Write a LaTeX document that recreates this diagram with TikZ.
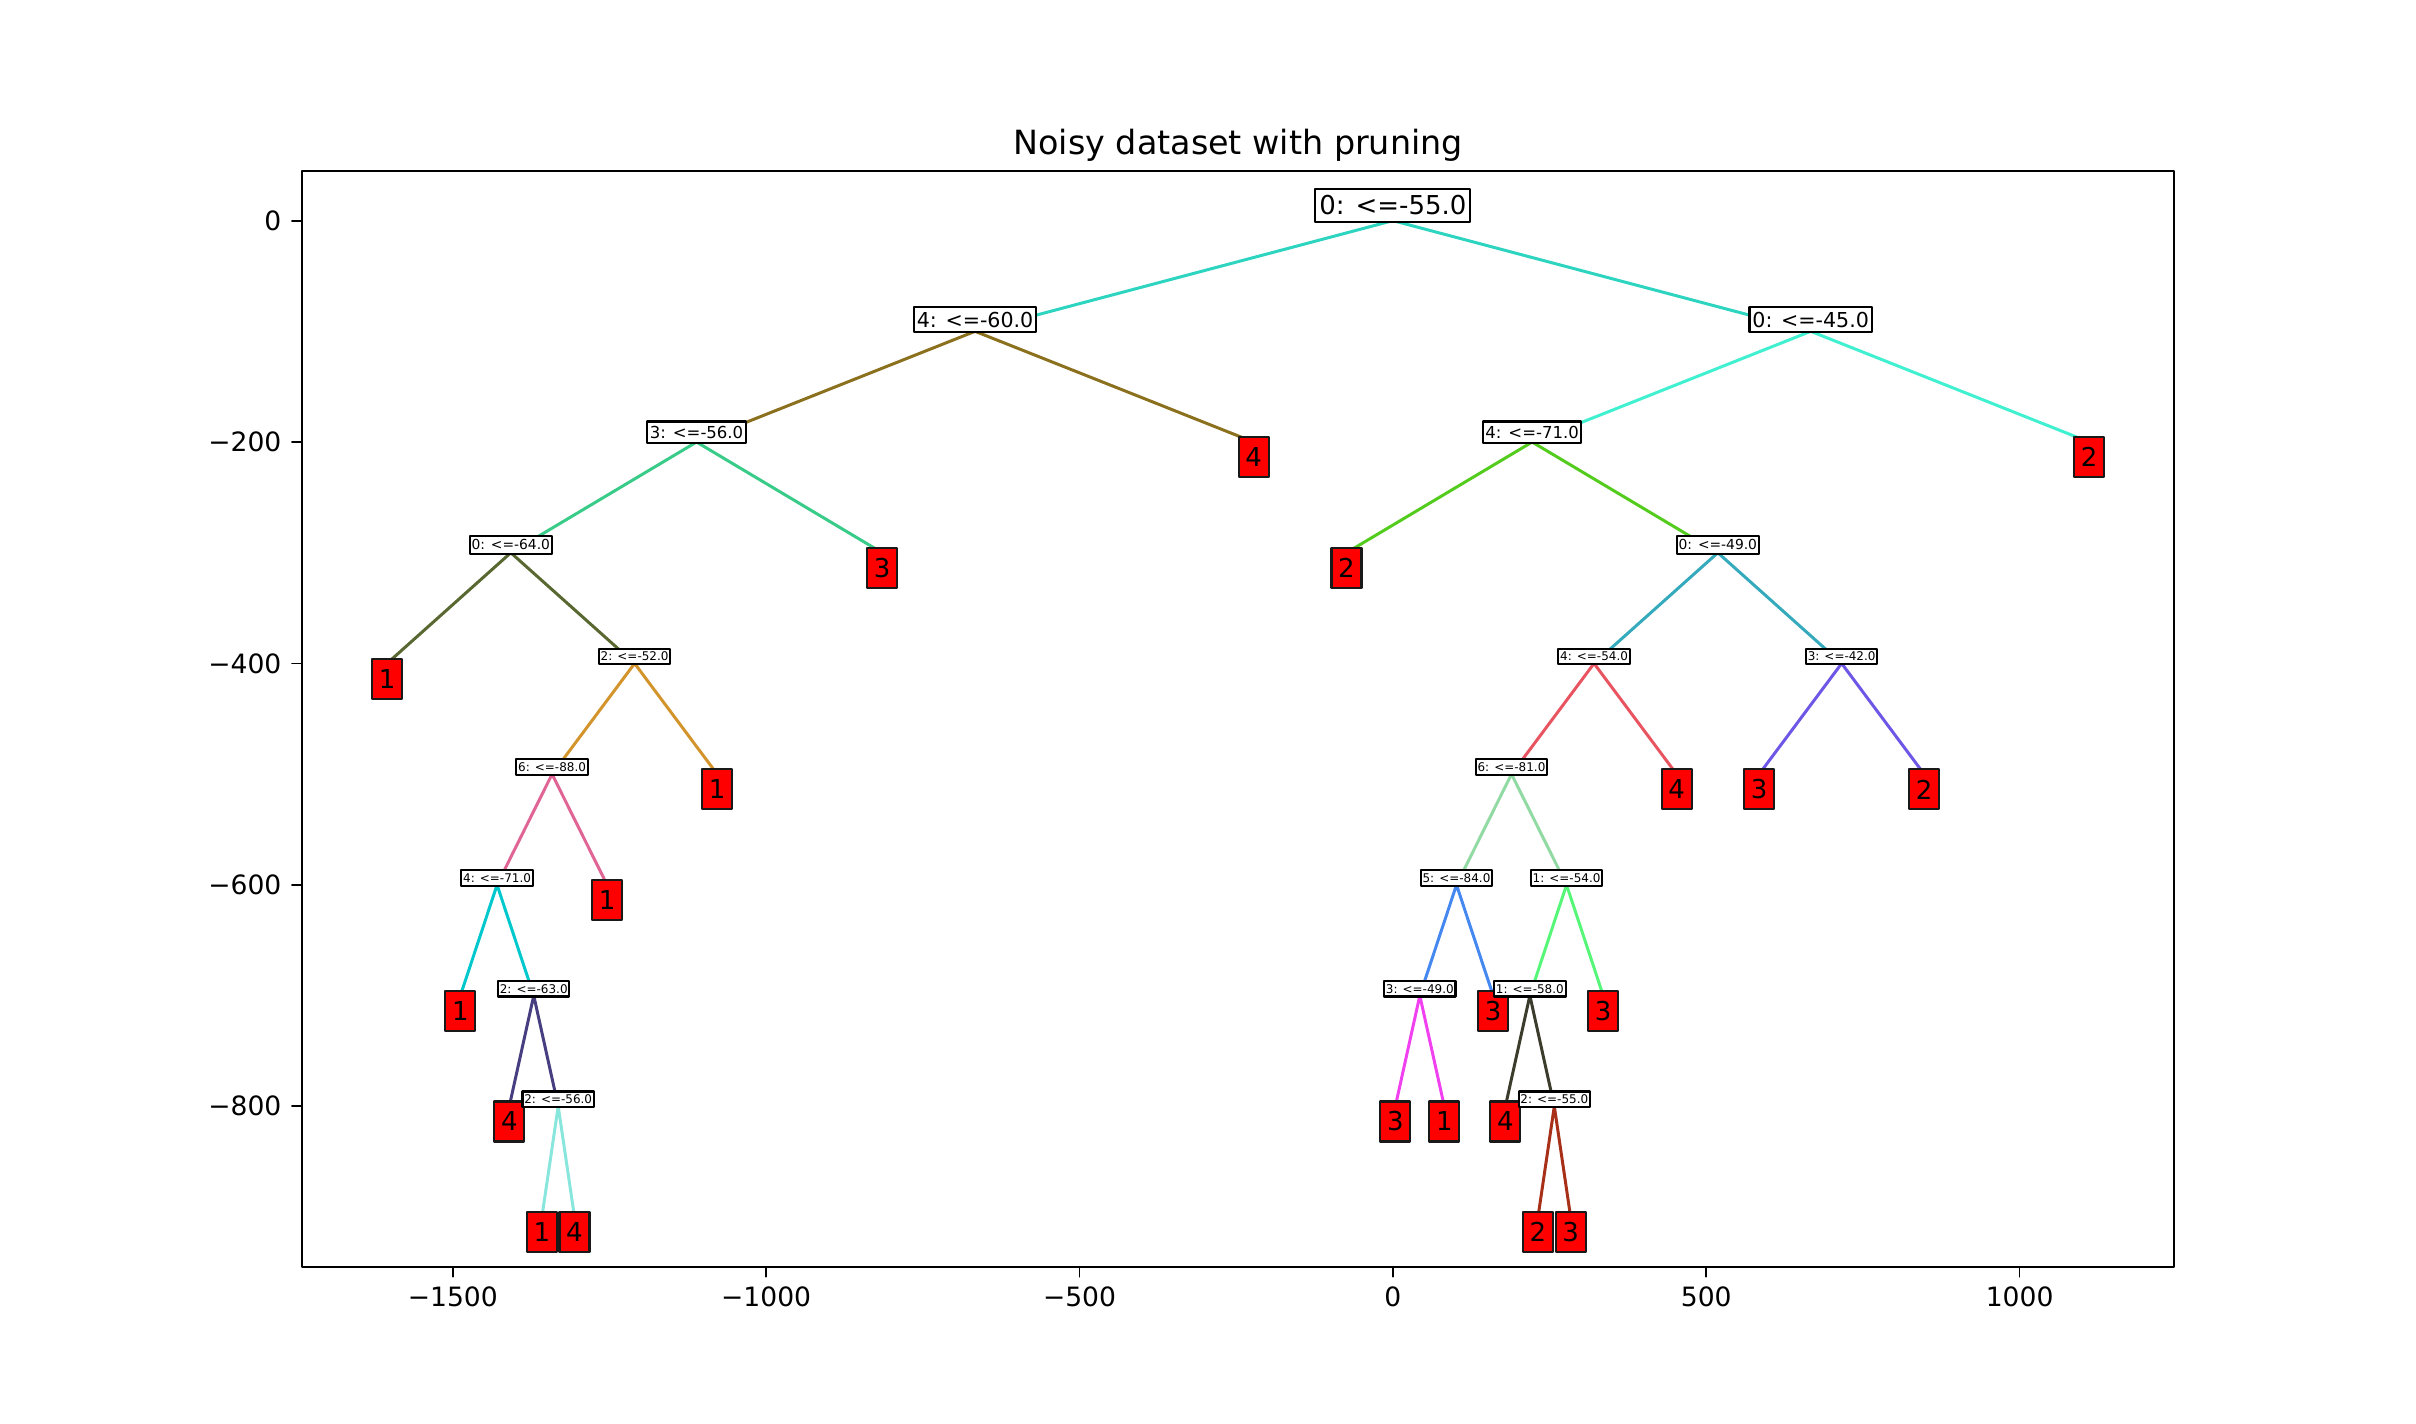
\documentclass[tikz,border=0pt]{standalone}
\usepackage{fontspec}
\setmainfont{DejaVu Sans}
% branch colours, one per split
\definecolor{cR}{HTML}{2DD4C0}
\definecolor{cA}{HTML}{8B701E}
\definecolor{cB}{HTML}{38CC88}
\definecolor{cC}{HTML}{586830}
\definecolor{cD}{HTML}{D4942C}
\definecolor{cE}{HTML}{E06494}
\definecolor{cF}{HTML}{00C8CC}
\definecolor{cG}{HTML}{463E80}
\definecolor{cH}{HTML}{88E6DC}
\definecolor{cP}{HTML}{40F0D0}
\definecolor{cQ}{HTML}{54CC1E}
\definecolor{cS}{HTML}{34AABC}
\definecolor{cT}{HTML}{E85460}
\definecolor{cU}{HTML}{6E56E6}
\definecolor{cV}{HTML}{92DAA4}
\definecolor{cW}{HTML}{4488F0}
\definecolor{cX}{HTML}{56F678}
\definecolor{cY}{HTML}{F040F0}
\definecolor{cZ}{HTML}{3C3C2C}
\definecolor{cK}{HTML}{A83018}
\tikzset{
  edge/.style={line width=0.85pt},
  split/.style={draw,fill=white,line width=0.6pt,inner ysep=0pt,anchor=south,yshift=-0.2mm},
  lv0/.style={font=\fontsize{7.4pt}{8pt}\selectfont,minimum height=3.3mm,inner xsep=0.4mm},
  lv1/.style={font=\fontsize{5.86pt}{6.5pt}\selectfont,minimum height=2.55mm,inner xsep=0.3mm},
  lv2/.style={font=\fontsize{4.7pt}{5.2pt}\selectfont,minimum height=2.15mm,inner xsep=0.25mm},
  lv3/.style={font=\fontsize{3.94pt}{4.4pt}\selectfont,minimum height=1.8mm,inner xsep=0.2mm},
  lv4/.style={font=\fontsize{3.41pt}{3.8pt}\selectfont,minimum height=1.57mm,inner xsep=0.18mm},
  leaf/.style={draw=black!90,fill=red,line width=0.6pt,inner sep=0pt,minimum width=3mm,minimum height=4mm,
    anchor=north,yshift=0.58mm,font=\fontsize{7.4pt}{8pt}\selectfont},
  frame/.style={line width=0.5pt},
  ticklab/.style={inner sep=0pt,font=\fontsize{7.57pt}{8.5pt}\selectfont}
}
\begin{document}
\begin{tikzpicture}[line cap=round,line join=round,x=0.0062672cm,y=0.011076cm]
\fill[white] (-2222.5,199.3) rectangle (1632.5,-1086.4);
% split points
\coordinate (r) at (0,0);
\coordinate (a) at (-666.667,-100);
\coordinate (b) at (-1111.111,-200);
\coordinate (c) at (-1407.407,-300);
\coordinate (d) at (-1209.877,-400);
\coordinate (e) at (-1341.564,-500);
\coordinate (f) at (-1429.355,-600);
\coordinate (g) at (-1370.827,-700);
\coordinate (h) at (-1331.809,-800);
\coordinate (p) at (666.667,-100);
\coordinate (q) at (222.222,-200);
\coordinate (s) at (518.519,-300);
\coordinate (t) at (320.988,-400);
\coordinate (u) at (716.049,-400);
\coordinate (v) at (189.300,-500);
\coordinate (w) at (101.509,-600);
\coordinate (x) at (277.092,-600);
\coordinate (y) at (42.981,-700);
\coordinate (z) at (218.564,-700);
\coordinate (k) at (257.582,-800);
% leaf points
\coordinate (aR) at (-222.222,-200);
\coordinate (bR) at (-814.815,-300);
\coordinate (cL) at (-1604.938,-400);
\coordinate (dR) at (-1078.189,-500);
\coordinate (eR) at (-1253.772,-600);
\coordinate (fL) at (-1487.883,-700);
\coordinate (gL) at (-1409.845,-800);
\coordinate (hL) at (-1357.821,-900);
\coordinate (hR) at (-1305.797,-900);
\coordinate (pR) at (1111.111,-200);
\coordinate (qL) at (-74.074,-300);
\coordinate (uL) at (584.362,-500);
\coordinate (uR) at (847.737,-500);
\coordinate (tR) at (452.675,-500);
\coordinate (wR) at (160.037,-700);
\coordinate (yL) at (3.963,-800);
\coordinate (yR) at (81.999,-800);
\coordinate (xR) at (335.620,-700);
\coordinate (zL) at (179.546,-800);
\coordinate (kL) at (231.570,-900);
\coordinate (kR) at (283.594,-900);
% branches
\draw[edge,cR] (a) -- (r) -- (p);
\draw[edge,cA] (b) -- (a) -- (aR);
\draw[edge,cB] (c) -- (b) -- (bR);
\draw[edge,cC] (cL) -- (c) -- (d);
\draw[edge,cD] (e) -- (d) -- (dR);
\draw[edge,cE] (f) -- (e) -- (eR);
\draw[edge,cF] (fL) -- (f) -- (g);
\draw[edge,cG] (gL) -- (g) -- (h);
\draw[edge,cH] (hL) -- (h) -- (hR);
\draw[edge,cP] (q) -- (p) -- (pR);
\draw[edge,cQ] (qL) -- (q) -- (s);
\draw[edge,cS] (t) -- (s) -- (u);
\draw[edge,cT] (v) -- (t) -- (tR);
\draw[edge,cU] (uL) -- (u) -- (uR);
\draw[edge,cV] (w) -- (v) -- (x);
\draw[edge,cW] (y) -- (w) -- (wR);
\draw[edge,cX] (z) -- (x) -- (xR);
\draw[edge,cY] (yL) -- (y) -- (yR);
\draw[edge,cZ] (zL) -- (z) -- (k);
\draw[edge,cK] (kL) -- (k) -- (kR);
% boxes, left subtree first
\node[split,lv0] (lab-r) at (r) {0: <=-55.0};
\node[split,lv1] (lab-a) at (a) {4: <=-60.0};
\node[split,lv2] (lab-b) at (b) {3: <=-56.0};
\node[split,lv3] (lab-c) at (c) {0: <=-64.0};
\node[leaf] (lab-cL) at (cL) {1};
\node[split,lv4] (lab-d) at (d) {2: <=-52.0};
\node[split,lv4] (lab-e) at (e) {6: <=-88.0};
\node[split,lv4] (lab-f) at (f) {4: <=-71.0};
\node[leaf] (lab-fL) at (fL) {1};
\node[split,lv4] (lab-g) at (g) {2: <=-63.0};
\node[leaf] (lab-gL) at (gL) {4};
\node[split,lv4] (lab-h) at (h) {2: <=-56.0};
\node[leaf] (lab-hL) at (hL) {1};
\node[leaf] (lab-hR) at (hR) {4};
\node[leaf] (lab-eR) at (eR) {1};
\node[leaf] (lab-dR) at (dR) {1};
\node[leaf] (lab-bR) at (bR) {3};
\node[leaf] (lab-aR) at (aR) {4};
\node[split,lv1] (lab-p) at (p) {0: <=-45.0};
\node[split,lv2] (lab-q) at (q) {4: <=-71.0};
\node[leaf] (lab-qL) at (qL) {2};
\node[split,lv3] (lab-s) at (s) {0: <=-49.0};
\node[split,lv4] (lab-t) at (t) {4: <=-54.0};
\node[split,lv4] (lab-v) at (v) {6: <=-81.0};
\node[split,lv4] (lab-w) at (w) {5: <=-84.0};
\node[split,lv4] (lab-y) at (y) {3: <=-49.0};
\node[leaf] (lab-yL) at (yL) {3};
\node[leaf] (lab-yR) at (yR) {1};
\node[leaf] (lab-wR) at (wR) {3};
\node[split,lv4] (lab-x) at (x) {1: <=-54.0};
\node[split,lv4] (lab-z) at (z) {1: <=-58.0};
\node[leaf] (lab-zL) at (zL) {4};
\node[split,lv4] (lab-k) at (k) {2: <=-55.0};
\node[leaf] (lab-kL) at (kL) {2};
\node[leaf] (lab-kR) at (kR) {3};
\node[leaf] (lab-xR) at (xR) {3};
\node[leaf] (lab-tR) at (tR) {4};
\node[split,lv4] (lab-u) at (u) {3: <=-42.0};
\node[leaf] (lab-uL) at (uL) {3};
\node[leaf] (lab-uR) at (uR) {2};
\node[leaf] (lab-pR) at (pR) {2};
% axes
\draw[frame] (-1740.7,45) rectangle (1246.9,-945);
\foreach \v/\t in {-1500/−1500,-1000/−1000,-500/−500,0/0,500/500,1000/1000}
  \draw[frame] (\v,-945) -- ++(0,-1mm) node[ticklab,anchor=north,yshift=-0.93mm] (xt\v) {\t};
\foreach \v/\t in {0/0,-200/−200,-400/−400,-600/−600,-800/−800}
  \draw[frame] (-1740.7,\v) -- ++(-1mm,0) node[ticklab,anchor=east,xshift=-0.97mm] (yt\v) {\t};
\node[anchor=base,inner sep=0pt,font=\fontsize{9.5pt}{11pt}\selectfont] (title) at (-246.9,59.3) {Noisy dataset with pruning};
\end{tikzpicture}
\end{document}
